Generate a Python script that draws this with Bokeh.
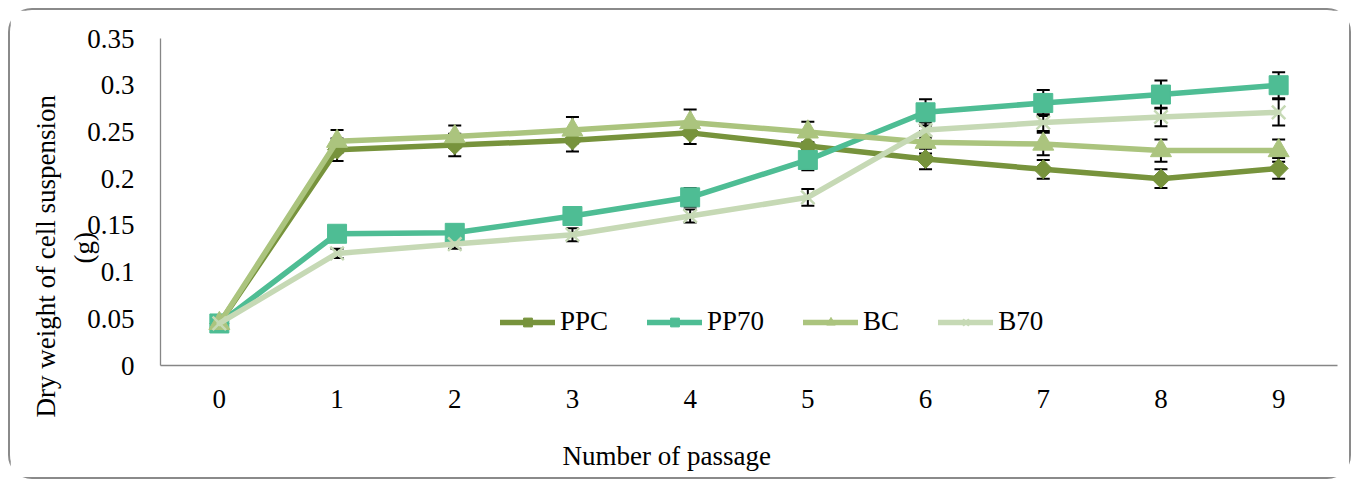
import math
from bokeh.plotting import figure
from bokeh.models import (ColumnDataSource, Whisker, TeeHead, Legend, LegendItem,
                          FixedTicker, Range1d, Title)
from bokeh.embed import file_html
from bokeh.resources import INLINE

# ---- data ----
passages = [0, 1, 2, 3, 4, 5, 6, 7, 8, 9]
ppc = [0.045, 0.231, 0.236, 0.241, 0.249, 0.235, 0.221, 0.210, 0.200, 0.211]
ppc_err = [0.003, 0.012, 0.012, 0.012, 0.012, 0.010, 0.011, 0.010, 0.010, 0.011]
pp70 = [0.045, 0.141, 0.142, 0.160, 0.180, 0.220, 0.271, 0.281, 0.290, 0.300]
pp70_err = [0.003, 0.008, 0.008, 0.008, 0.010, 0.011, 0.014, 0.014, 0.015, 0.014]
bc = [0.045, 0.240, 0.245, 0.252, 0.260, 0.250, 0.239, 0.237, 0.230, 0.230]
bc_err = [0.003, 0.012, 0.012, 0.014, 0.014, 0.011, 0.012, 0.012, 0.012, 0.012]
b70 = [0.045, 0.120, 0.130, 0.140, 0.160, 0.180, 0.252, 0.260, 0.266, 0.271]
b70_err = [0.003, 0.005, 0.005, 0.007, 0.007, 0.009, 0.008, 0.009, 0.010, 0.014]

series_names = ["PPC", "PP70", "BC", "B70"]
series_values = [ppc, pp70, bc, b70]
series_errors = [ppc_err, pp70_err, bc_err, b70_err]
series_colors = ["#77933C", "#4EBD94", "#ABC47E", "#C6D9B5"]
series_markers = ["diamond", "square", "triangle", "x"]

y_ticks = [0, 0.05, 0.1, 0.15, 0.2, 0.25, 0.3, 0.35]
y_tick_labels = ["0", "0.05", "0.1", "0.15", "0.2", "0.25", "0.3", "0.35"]

x_title = "Number of passage"
y_title_1 = "Dry weight of cell suspension"
y_title_2 = "(g)"

FONT = "Liberation Serif"
FS = "27px"

p = figure(width=1343, height=471, output_backend="svg", toolbar_location=None,
           x_range=Range1d(-0.5, 9.5), y_range=Range1d(0, 0.35),
           min_border_left=149, min_border_right=16, min_border_top=28,
           min_border_bottom=116)
p.margin = (8, 0, 0, 8)
p.styles = {"border": "2px solid #8A8A8A", "border-radius": "24px",
            "background-color": "white"}
p.outline_line_color = None
p.xgrid.grid_line_color = None
p.ygrid.grid_line_color = None
p.background_fill_color = "white"
p.border_fill_color = "white"

for ax in (p.xaxis[0], p.yaxis[0]):
    ax.axis_line_color = "#868686"
    ax.axis_line_width = 1.3
    ax.major_tick_line_color = None
    ax.minor_tick_line_color = None
    ax.major_tick_out = 0
    ax.major_tick_in = 0
    ax.major_label_text_font = FONT
    ax.major_label_text_font_size = FS
    ax.major_label_text_color = "black"

p.xaxis[0].ticker = FixedTicker(ticks=passages)
p.xaxis[0].major_label_standoff = 24
p.yaxis[0].ticker = FixedTicker(ticks=y_ticks)
p.yaxis[0].major_label_overrides = {t: l for t, l in zip(y_ticks, y_tick_labels)}
p.yaxis[0].major_label_standoff = 26

items = []
for name, vals, errs, col, mk in zip(series_names, series_values, series_errors,
                                     series_colors, series_markers):
    src = ColumnDataSource(dict(
        x=passages, y=vals,
        upper=[v + e for v, e in zip(vals, errs)],
        lower=[v - e for v, e in zip(vals, errs)]))
    ln = p.line("x", "y", source=src, line_color=col, line_width=5.5,
                line_join="round", line_cap="round")
    if mk == "diamond":
        sc = p.scatter("x", "y", source=src, marker="square", size=13.5,
                       angle=math.pi / 4, fill_color=col, line_color=col)
    elif mk == "x":
        sc = p.scatter("x", "y", source=src, marker="x", size=19,
                       line_color=col, line_width=2.5)
    elif mk == "triangle":
        sc = p.scatter("x", "y", source=src, marker="triangle", size=21,
                       fill_color=col, line_color=col)
    else:
        sc = p.scatter("x", "y", source=src, marker="square", size=19,
                       fill_color=col, line_color=col)
    w = Whisker(base="x", upper="upper", lower="lower", source=src,
                line_color="black", line_width=2,
                upper_head=TeeHead(size=13, line_color="black", line_width=2),
                lower_head=TeeHead(size=13, line_color="black", line_width=2))
    p.add_layout(w)
    items.append(LegendItem(label=name, renderers=[ln, sc]))

legend = Legend(items=items, orientation="horizontal", location=(340, 28),
                glyph_width=55, glyph_height=22, label_standoff=5, spacing=39,
                padding=0, margin=0, border_line_color=None,
                background_fill_alpha=0, label_text_font=FONT,
                label_text_font_size=FS, label_text_color="black")
p.add_layout(legend, "center")

def side_title(text, **kw):
    return Title(text=text, text_font=FONT, text_font_size=FS,
                 text_font_style="normal", text_color="black", **kw)

# x title: blank spacer panel, then the title
p.add_layout(side_title(" ", standoff=-4), "below")
p.add_layout(side_title(x_title, align="left", offset=402, standoff=0), "below")
# y title (two lines)
p.add_layout(side_title(y_title_2, align="left", offset=102, standoff=-29), "left")
p.add_layout(side_title(y_title_1, align="left", offset=-52, standoff=39,
                        vertical_align="middle"), "left")

open("out.html", "w").write(file_html(p, INLINE))
